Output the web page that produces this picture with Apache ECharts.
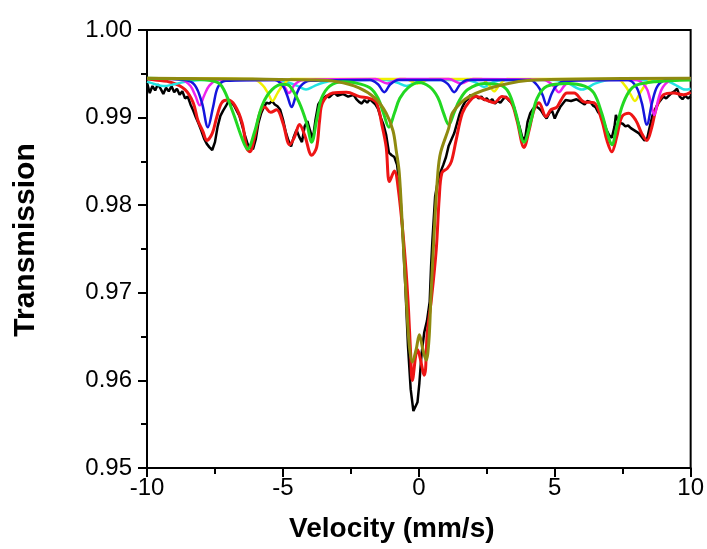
<!DOCTYPE html>
<html>
<head>
<meta charset="utf-8">
<script src="https://cdn.jsdelivr.net/npm/echarts@6/dist/echarts.min.js"></script>
<style>
  html, body { margin: 0; padding: 0; background: #fff; }
  #chart { width: 707px; height: 549px; }
</style>
</head>
<body>
<div id="chart"></div>
<script>
// measured spectrum (velocity mm/s, transmission)
const measured = [
  [-10.0,0.9940],[-9.9,0.9928],[-9.8,0.9936],[-9.7,0.9931],[-9.6,0.9938],[-9.5,0.9933],[-9.4,0.9927],[-9.3,0.9934],
  [-9.2,0.9930],[-9.1,0.9936],[-9.0,0.9929],[-8.9,0.9933],[-8.8,0.9926],[-8.7,0.9930],[-8.6,0.9922],[-8.5,0.9924],
  [-8.4,0.9915],[-8.3,0.9908],[-8.2,0.9900],[-8.1,0.9893],[-8.0,0.9885],[-7.9,0.9876],[-7.8,0.9870],[-7.7,0.9866],
  [-7.6,0.9863],[-7.5,0.9872],[-7.4,0.9890],[-7.3,0.9902],[-7.2,0.9908],[-7.1,0.9913],[-7.0,0.9919],[-6.9,0.9917],
  [-6.8,0.9914],[-6.7,0.9908],[-6.6,0.9902],[-6.5,0.9891],[-6.4,0.9880],[-6.3,0.9870],[-6.2,0.9866],[-6.1,0.9864],
  [-6.0,0.9875],[-5.9,0.9894],[-5.8,0.9905],[-5.7,0.9912],[-5.6,0.9917],[-5.5,0.9916],[-5.4,0.9919],[-5.3,0.9915],
  [-5.2,0.9913],[-5.1,0.9909],[-5.0,0.9898],[-4.9,0.9884],[-4.8,0.9874],[-4.7,0.9867],[-4.6,0.9878],[-4.5,0.9886],
  [-4.4,0.9878],[-4.3,0.9872],[-4.2,0.9890],[-4.1,0.9896],[-4.0,0.9885],[-3.9,0.9875],[-3.8,0.9898],[-3.7,0.9915],
  [-3.6,0.9920],[-3.5,0.9922],[-3.4,0.9925],[-3.3,0.9923],[-3.2,0.9926],[-3.1,0.9928],[-3.0,0.9925],[-2.8,0.9927],
  [-2.6,0.9924],[-2.4,0.9926],[-2.3,0.9921],[-2.2,0.9918],[-2.1,0.9916],[-2.0,0.9920],[-1.9,0.9917],[-1.8,0.9921],
  [-1.7,0.9918],[-1.6,0.9915],[-1.5,0.9910],[-1.4,0.9900],[-1.3,0.9892],[-1.2,0.9880],[-1.1,0.9860],[-1.0,0.9857],
  [-0.9,0.9855],[-0.8,0.9846],[-0.7,0.9820],[-0.6,0.9772],[-0.5,0.9710],[-0.4,0.9640],[-0.3,0.9590],[-0.2,0.9565],
  [-0.15,0.9563],[-0.05,0.9575],[0.02,0.9597],[0.1,0.9630],[0.2,0.9655],[0.3,0.9668],[0.4,0.9690],[0.45,0.9730],
  [0.5,0.9760],[0.6,0.9810],[0.7,0.9828],[0.8,0.9838],[0.9,0.9846],[1.0,0.9855],[1.1,0.9868],[1.2,0.9875],
  [1.3,0.9882],[1.4,0.9893],[1.5,0.9904],[1.6,0.9912],[1.7,0.9918],[1.8,0.9921],[1.9,0.9926],[2.0,0.9923],
  [2.1,0.9925],[2.2,0.9922],[2.3,0.9924],[2.4,0.9920],[2.5,0.9922],[2.6,0.9918],[2.7,0.9921],[2.8,0.9916],
  [2.9,0.9919],[3.0,0.9917],[3.1,0.9921],[3.2,0.9924],[3.3,0.9920],[3.4,0.9917],[3.5,0.9912],[3.6,0.9900],
  [3.7,0.9890],[3.8,0.9878],[3.9,0.9874],[4.0,0.9895],[4.1,0.9905],[4.2,0.9910],[4.3,0.9913],[4.4,0.9911],
  [4.5,0.9908],[4.6,0.9903],[4.7,0.9899],[4.8,0.9905],[4.9,0.9908],[5.0,0.9899],[5.1,0.9906],[5.2,0.9912],
  [5.3,0.9916],[5.4,0.9920],[5.6,0.9919],[5.8,0.9921],[6.0,0.9917],[6.1,0.9915],[6.2,0.9919],[6.3,0.9918],
  [6.4,0.9914],[6.5,0.9912],[6.6,0.9906],[6.7,0.9903],[6.8,0.9896],[6.9,0.9886],[7.0,0.9880],[7.1,0.9877],
  [7.2,0.9890],[7.25,0.9903],[7.3,0.9898],[7.4,0.9894],[7.5,0.9893],[7.6,0.9890],[7.7,0.9891],[7.8,0.9888],
  [7.9,0.9886],[8.0,0.9884],[8.1,0.9882],[8.2,0.9878],[8.3,0.9874],[8.4,0.9876],[8.5,0.9890],[8.6,0.9903],
  [8.7,0.9910],[8.8,0.9916],[8.9,0.9920],[9.0,0.9924],[9.1,0.9922],[9.2,0.9925],[9.3,0.9928],[9.4,0.9930],
  [9.5,0.9933],[9.6,0.9924],[9.7,0.9921],[9.8,0.9925],[9.9,0.9922],[10.0,0.9924]
];

// total fit
const totalFit = [
  [-10,0.9944],[-9.7,0.9943],[-9.08,0.9940],[-8.6,0.9932],[-8.3,0.9917],[-8.13,0.9897],[-7.94,0.9884],[-7.8,0.9874],
  [-7.6,0.9882],[-7.43,0.9901],[-7.25,0.9917],[-7.03,0.9920],[-6.77,0.9914],[-6.5,0.9894],[-6.33,0.9865],[-6.22,0.9861],
  [-6.04,0.9878],[-5.85,0.9905],[-5.67,0.9912],[-5.45,0.9906],[-5.23,0.9909],[-5.0,0.9894],[-4.75,0.9869],[-4.57,0.9878],
  [-4.39,0.9892],[-4.2,0.9880],[-3.94,0.9857],[-3.76,0.9866],[-3.65,0.9897],[-3.54,0.9917],[-3.17,0.9928],[-2.66,0.9929],
  [-2.18,0.9924],[-1.82,0.9922],[-1.56,0.9917],[-1.34,0.9889],[-1.2,0.9866],[-1.08,0.9827],[-0.9,0.9839],[-0.75,0.9817],
  [-0.53,0.9749],[-0.4,0.9692],[-0.3,0.9630],[-0.24,0.9600],[-0.05,0.9635],[0.2,0.9606],[0.31,0.9654],[0.46,0.9692],
  [0.64,0.9749],[0.75,0.9808],[0.85,0.9837],[1.05,0.9842],[1.2,0.9850],[1.37,0.9874],[1.6,0.9905],[1.85,0.9918],
  [2.1,0.9924],[2.48,0.9920],[2.77,0.9917],[3.06,0.9924],[3.39,0.9918],[3.61,0.9897],[3.87,0.9866],[4.06,0.9886],
  [4.24,0.9909],[4.42,0.9917],[4.68,0.9901],[4.86,0.9909],[5.08,0.9912],[5.23,0.9920],[5.45,0.9928],[5.71,0.9928],
  [6.07,0.9918],[6.44,0.9917],[6.73,0.9897],[6.92,0.9874],[7.1,0.9861],[7.28,0.9878],[7.47,0.9901],[7.72,0.9905],
  [7.98,0.9897],[8.2,0.9882],[8.39,0.9874],[8.57,0.9889],[8.75,0.9912],[9.0,0.9926],[9.38,0.9928],[9.74,0.9926],[10,0.9929]
];

// subspectra
const cyanSite = [
  [-10,0.9941],[-9.7,0.9938],[-9.4,0.9936],[-9.0,0.9938],[-8.6,0.9941],[-8.0,0.9943],[-5.2,0.9943],[-4.8,0.9940],
  [-4.45,0.9936],[-4.15,0.9932],[-3.85,0.9936],[-3.5,0.9940],[-3.0,0.9943],[-1.2,0.9943],[-0.8,0.9940],[-0.45,0.9936],
  [-0.1,0.9940],[0.3,0.9943],[1.7,0.9943],[2.1,0.9940],[2.4,0.9935],[2.7,0.9940],[3.1,0.9943],[5.0,0.9943],
  [5.5,0.9939],[6.0,0.9932],[6.5,0.9939],[7.0,0.9943],[9.0,0.9943],[9.4,0.9938],[9.8,0.9932],[10,0.9933]
];
const yellowSite = [
  [-10,0.9945],[-6.1,0.9944],[-5.75,0.9937],[-5.55,0.9928],[-5.38,0.9919],[-5.2,0.9928],[-5.0,0.9937],[-4.7,0.9944],
  [-0.5,0.9944],[-0.05,0.9939],[0.4,0.9944],[2.3,0.9944],[2.58,0.9937],[2.77,0.9930],[2.96,0.9937],[3.25,0.9944],
  [7.3,0.9944],[7.6,0.9936],[7.78,0.9927],[7.95,0.9919],[8.12,0.9927],[8.3,0.9936],[8.6,0.9944],[10,0.9945]
];
const magentaSite = [
  [-10,0.9945],[-8.7,0.9943],[-8.4,0.9936],[-8.22,0.9925],[-8.06,0.9914],[-7.9,0.9925],[-7.72,0.9936],[-7.4,0.9943],
  [-5.3,0.9943],[-5.0,0.9938],[-4.78,0.9928],[-4.56,0.9938],[-4.25,0.9943],[-1.6,0.9944],[-1.16,0.9939],[-0.7,0.9944],
  [1.1,0.9944],[1.56,0.9939],[2.0,0.9944],[4.6,0.9943],[4.93,0.9937],[5.15,0.9929],[5.37,0.9937],[5.7,0.9943],
  [8.0,0.9943],[8.35,0.9935],[8.5,0.9922],[8.66,0.9903],[8.82,0.9922],[8.98,0.9935],[9.3,0.9943],[10,0.9944]
];
const blueSite = [
  [-10,0.9945],[-8.6,0.9943],[-8.24,0.9937],[-7.98,0.9917],[-7.76,0.9889],[-7.57,0.9912],[-7.39,0.9935],[-7.1,0.9942],
  [-5.3,0.9943],[-5.0,0.9936],[-4.84,0.9925],[-4.68,0.9912],[-4.52,0.9925],[-4.35,0.9936],[-4.0,0.9942],[-1.8,0.9943],
  [-1.5,0.9938],[-1.27,0.9929],[-1.05,0.9938],[-0.75,0.9943],[0.8,0.9943],[1.08,0.9938],[1.3,0.9929],[1.52,0.9938],
  [1.8,0.9943],[4.1,0.9943],[4.4,0.9935],[4.55,0.9926],[4.71,0.9914],[4.87,0.9926],[5.05,0.9936],[5.4,0.9942],
  [7.7,0.9943],[8.0,0.9935],[8.2,0.9917],[8.39,0.9892],[8.58,0.9917],[8.78,0.9936],[9.1,0.9943],[10,0.9944]
];
const greenSite = [
  [-10,0.9945],[-8.5,0.9944],[-7.6,0.9942],[-7.25,0.9936],[-6.85,0.9907],[-6.5,0.9876],[-6.3,0.9864],[-6.05,0.9883],
  [-5.75,0.9915],[-5.4,0.9932],[-5.0,0.9938],[-4.75,0.9936],[-4.4,0.9917],[-4.13,0.9894],[-3.94,0.9872],[-3.76,0.9897],
  [-3.58,0.9922],[-3.28,0.9936],[-2.8,0.9941],[-2.4,0.9940],[-1.8,0.9934],[-1.5,0.9922],[-1.3,0.9905],[-1.1,0.9889],
  [-0.9,0.9905],[-0.7,0.9922],[-0.4,0.9934],[0,0.9940],[0.4,0.9935],[0.7,0.9923],[0.9,0.9906],[1.1,0.9892],
  [1.3,0.9906],[1.5,0.9920],[1.8,0.9932],[2.4,0.9939],[3.0,0.9937],[3.3,0.9929],[3.57,0.9905],[3.87,0.9872],
  [4.13,0.9897],[4.35,0.9922],[4.72,0.9936],[5.5,0.9939],[6.1,0.9936],[6.44,0.9928],[6.73,0.9905],[6.92,0.9884],
  [7.1,0.9869],[7.28,0.9889],[7.47,0.9912],[7.72,0.9929],[8.0,0.9937],[8.7,0.9941],[10,0.9943]
];
const oliveDoublet = [
  [-10,0.9945],[-6,0.9944],[-4,0.9943],[-3,0.9941],[-2.2,0.9934],[-1.6,0.9922],[-1.2,0.9905],[-0.95,0.9885],
  [-0.83,0.9862],[-0.72,0.9837],[-0.6,0.9772],[-0.46,0.9692],[-0.35,0.9640],[-0.24,0.9621],[-0.1,0.9635],[0.02,0.9652],
  [0.15,0.9635],[0.27,0.9623],[0.37,0.9645],[0.44,0.9692],[0.57,0.9772],[0.7,0.9837],[0.8,0.9860],[1.1,0.9888],
  [1.25,0.9906],[1.85,0.9924],[3.0,0.9937],[4.3,0.9943],[10,0.9945]
];

const xTicks = { min: -10, max: 10, step: 5 };
const yTicks = { min: 0.95, max: 1.0, step: 0.01 };

const chart = echarts.init(document.getElementById('chart'), null, { renderer: 'canvas' });

const font = 'Liberation Sans, Arial, sans-serif';
const fitLine = (name, data, color, width) => ({
  name: name,
  type: 'line',
  data: data,
  showSymbol: false,
  smooth: 0.35,
  lineStyle: { color: color, width: width },
  z: 3
});

const option = {
  animation: false,
  backgroundColor: '#fff',
  grid: {
    left: 147, right: 15, top: 30, bottom: 81,
    show: true, borderColor: '#000', borderWidth: 2, backgroundColor: 'transparent'
  },
  xAxis: {
    type: 'value',
    min: xTicks.min, max: xTicks.max, interval: xTicks.step,
    name: 'Velocity (mm/s)',
    nameLocation: 'middle',
    nameGap: 47,
    nameTextStyle: { fontFamily: font, fontWeight: 'bold', fontSize: 28, color: '#000',
      padding: [0, 54, 0, 0] },
    axisLine: { show: true, onZero: false, lineStyle: { color: '#000', width: 2 } },
    axisTick: { show: true, inside: false, length: 9, lineStyle: { color: '#000', width: 2 } },
    minorTick: { show: true, splitNumber: 2, length: 6, lineStyle: { color: '#000', width: 2 } },
    axisLabel: { fontFamily: font, fontSize: 24, color: '#000', margin: 8 },
    splitLine: { show: false }
  },
  yAxis: {
    type: 'value',
    min: yTicks.min, max: yTicks.max, interval: yTicks.step,
    name: 'Transmission',
    nameLocation: 'middle',
    nameGap: 106,
    nameTextStyle: { fontFamily: font, fontWeight: 'bold', fontSize: 30, color: '#000',
      padding: [0, 0, 0, 18] },
    axisLine: { show: true, onZero: false, lineStyle: { color: '#000', width: 2 } },
    axisTick: { show: true, inside: false, length: 9, lineStyle: { color: '#000', width: 2 } },
    minorTick: { show: true, splitNumber: 2, length: 6, lineStyle: { color: '#000', width: 2 } },
    axisLabel: { fontFamily: font, fontSize: 24, color: '#000', margin: 15,
      formatter: v => v.toFixed(2) },
    splitLine: { show: false }
  },
  series: [
    {
      name: 'Measured', type: 'line', data: measured, showSymbol: false,
      lineStyle: { color: '#000', width: 2.5 }, z: 2
    },
    fitLine('Fit', totalFit, '#ee1515', 3),
    fitLine('Site 1', cyanSite, '#22e2e2', 2.5),
    fitLine('Site 2', yellowSite, '#f0f000', 2.5),
    fitLine('Site 3', magentaSite, '#ee22ee', 2.5),
    fitLine('Site 4', blueSite, '#1515dd', 2.5),
    fitLine('Site 5', greenSite, '#22d822', 3),
    fitLine('Doublet', oliveDoublet, '#8f8a10', 3)
  ]
};

chart.setOption(option);
</script>
</body>
</html>
